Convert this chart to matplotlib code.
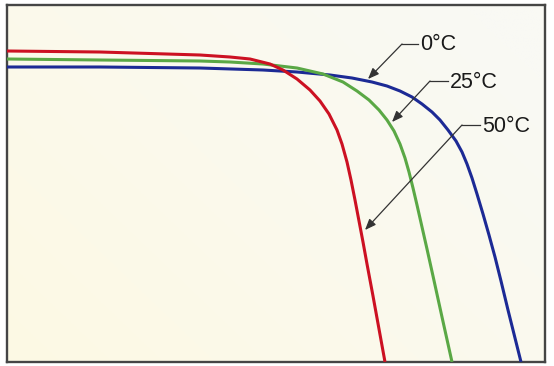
import numpy as np
import matplotlib
matplotlib.use("Agg")
import matplotlib.pyplot as plt

# ---- data (arbitrary units: voltage, current) ----
labels = ["0°C", "25°C", "50°C"]
colors = ["#1c2a95", "#5aa845", "#cc1122"]

v_0 = [0, 93, 193, 256, 290, 323, 345, 365, 380, 393, 405, 415, 425, 433, 441,
       449, 455, 460, 465, 470, 476, 482, 488, 494, 501, 507, 514]
i_0 = [295, 295, 294, 292, 290, 287, 284, 280, 276, 271, 265, 258, 250, 242, 232,
       221, 210, 198, 184, 168, 148, 127, 105, 81, 52, 28, 0]

v_25 = [0, 93, 193, 223, 256, 290, 316, 336, 350, 362, 372, 380, 387, 393, 398,
        402, 406, 410, 415, 420, 426, 435, 445]
i_25 = [303, 302, 301, 300, 298, 294, 288, 280, 271, 262, 252, 242, 231, 218, 204,
        190, 174, 157, 135, 113, 86, 45, 0]

v_50 = [0, 93, 193, 223, 243, 263, 276, 290, 303, 313, 322, 330, 335, 340, 344,
        348, 352, 356, 360, 366, 372, 378]
i_50 = [311, 310, 307, 305, 303, 298, 292, 283, 272, 261, 248, 232, 218, 200, 182,
        162, 141, 120, 98, 66, 33, 0]

series = [(v_0, i_0), (v_25, i_25), (v_50, i_50)]

# ---- layout ----
W, H, DPI = 554, 366, 100
fig = plt.figure(figsize=(W / DPI, H / DPI), dpi=DPI)
fig.patch.set_facecolor("white")
x0, y0, x1, y1 = 7, 5, 545, 362
ax = fig.add_axes([x0 / W, (H - y1) / H, (x1 - x0) / W, (y1 - y0) / H])
XMAX, YMAX = x1 - x0, y1 - y0
ax.set_xlim(0, XMAX)
ax.set_ylim(0, YMAX)

# background gradient: warm cream lower-left to near white upper-right
nx, ny = 200, 140
gx, gy = np.meshgrid(np.linspace(0, 1, nx), np.linspace(0, 1, ny))
t = np.clip(0.65 * gx + 0.45 * gy, 0, 1)[..., None]
c_a = np.array([253, 250, 228]) / 255
c_b = np.array([249, 249, 244]) / 255
img = c_a * (1 - t) + c_b * t
ax.imshow(img, extent=[0, XMAX, 0, YMAX], origin="lower", aspect="auto", zorder=0)

for (v, i), c in zip(series, colors):
    ax.plot(v, i, color=c, lw=2.2, solid_capstyle="butt",
            solid_joinstyle="round", zorder=3)

ax.set_xticks([])
ax.set_yticks([])
for s in ax.spines.values():
    s.set_color("#454545")
    s.set_linewidth(1.7)

# annotation positions (pixel -> data)
def P(px, py):
    return (px - x0, y1 - py)

notes = [
    # label, text-left, elbow, tip
    ("0°C", (420, 45), (402, 44), (368, 79)),
    ("25°C", (450, 82), (430, 81), (392, 122)),
    ("50°C", (482, 126), (462, 125), (365, 230)),
]
for lab, tpos, elbow, tip in notes:
    ex, ey = P(*elbow)
    tx, ty = P(*tpos)
    ax.plot([ex, tx - 2], [ey, ey], color="#333333", lw=0.9, zorder=4)
    ax.annotate("", xy=P(*tip), xytext=(ex, ey),
                arrowprops=dict(arrowstyle="-|>,head_length=0.55,head_width=0.22",
                                color="#333333", lw=0.9,
                                mutation_scale=12, shrinkA=0, shrinkB=0),
                zorder=4)
    ax.text(tx, ty, lab, fontsize=15.5, family="Liberation Sans",
            color="#1a1a1a", va="center", ha="left", zorder=5)

fig.savefig("out.png", dpi=DPI)
